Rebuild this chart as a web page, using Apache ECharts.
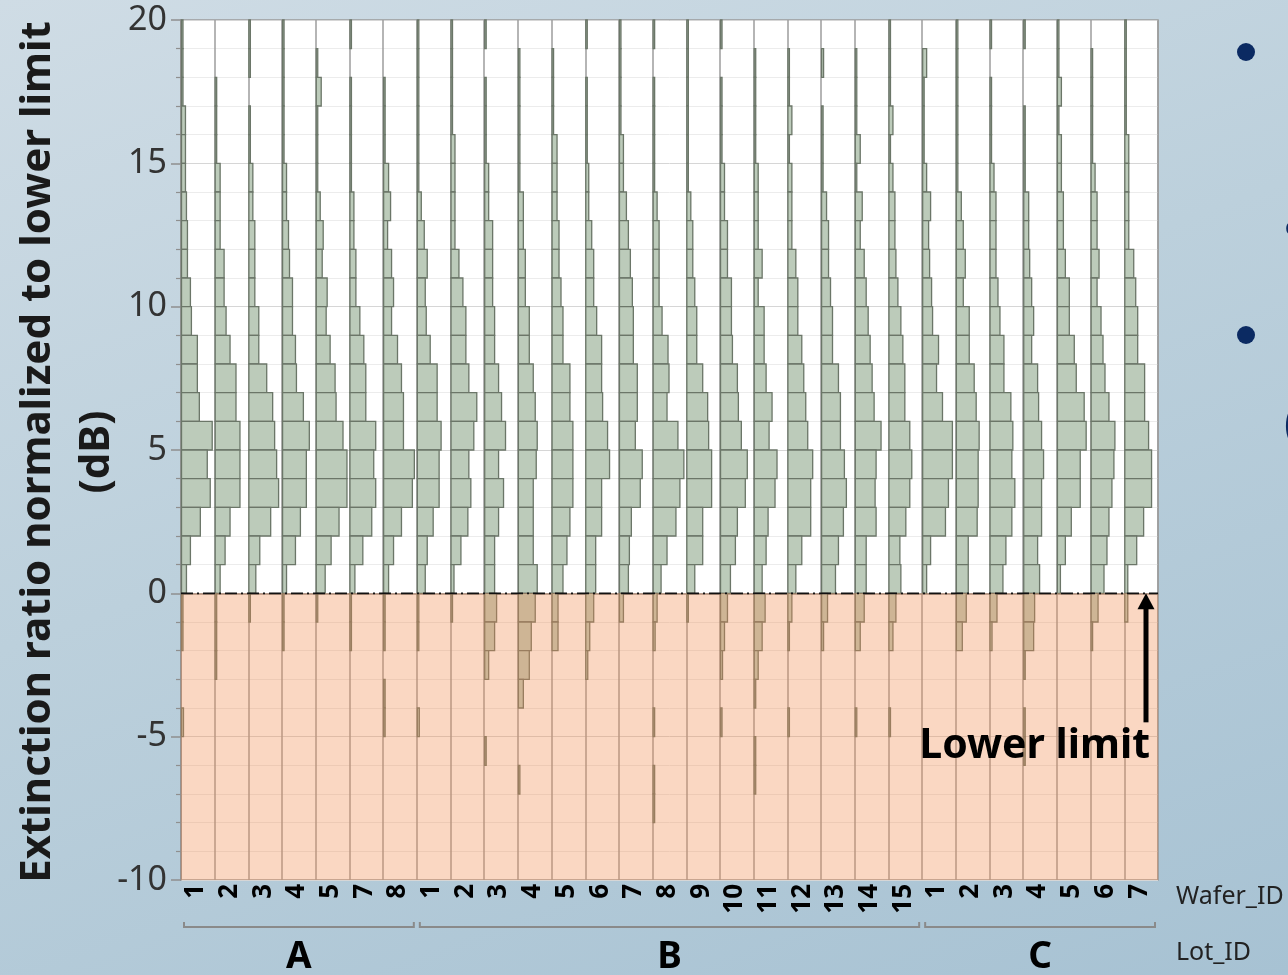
<!DOCTYPE html>
<html><head><meta charset="utf-8">
<script src="https://cdn.jsdelivr.net/npm/echarts@6/dist/echarts.min.js"></script>
<style>
html,body{margin:0;padding:0;width:1288px;height:975px;overflow:hidden;
background:linear-gradient(160deg,#cfdce5 0%,#bcd0dc 45%,#a7c2d3 100%);}
#c{width:1288px;height:975px;}
</style></head><body><div id="c"></div>
<script>
// ---------------- data ----------------
const lotIds = ['A', 'B', 'C'];
const lotA_wafers = ['1','2','3','4','5','7','8'];
const lotB_wafers = ['1','2','3','4','5','6','7','8','9','10','11','12','13','14','15'];
const lotC_wafers = ['1','2','3','4','5','6','7'];

// y axis (dB)
const Y_MIN = -10, Y_MAX = 20, Y_STEP = 5;
const LOWER_LIMIT = 0;
// histogram bins of 1 dB; each row lists bins from 19..20 dB down to -10..-9 dB
const BIN_TOP = 20, BIN_WIDTH = 1;
// relative count that fills the whole wafer column
const COL_FULL = 34;

const lotA_counts = [
  [1.5,1.5,1.5,4,4,4,5,6,6,9, 10,16,16,18,31,26,29,19,9,5, 1.5,1.5,0,0,2,0,0,0,0,0],
  [0,0,1.5,1.5,1.5,5,5,5,9,9, 11,15,21,21,25,25,25,15,10,5, 1.5,1.5,1.5,0,0,0,0,0,0,0],
  [1.5,1.5,0,1.5,1.5,4,4,6,6,6, 10,10,18,24,26,28,30,22,11,7, 1.5,0,0,0,0,0,0,0,0,0],
  [1.5,1.5,1.5,1.5,1.5,4,4,6,7,10, 10,13,14,21,27,24,24,18,13,4, 1.5,1.5,0,0,0,0,0,0,0,0],
  [0,1.5,5,1.5,1.5,1.5,4,7,6,11, 10,14,19,20,27,31,31,23,15,9, 1.5,0,0,0,0,0,0,0,0,0],
  [1.5,0,1.5,1.5,1.5,1.5,4,4,6,6, 10,14,16,16,26,24,26,22,13,5, 1.5,1.5,0,0,0,0,0,0,0,0],
  [0,0,1.5,1.5,1.5,5,7,4,8,10, 8,14,18,20,20,31,29,18,10,5, 1.5,1.5,0,1.5,1.5,0,0,0,0,0]
];
const lotB_counts = [
  [1.5,1.5,1.5,1.5,1.5,1.5,4,7,10,8, 9,13,20,20,24,22,22,16,10,8, 1.5,1.5,0,0,2,0,0,0,0,0],
  [1.5,1.5,1.5,1.5,4,4,4,4,8,12, 15,15,18,26,23,18,20,17,10,3, 1.5,0,0,0,0,0,0,0,0,0],
  [1.5,0,1.5,1.5,1.5,4,4,8,8,8, 10,10,14,17,21,14,19,14,10,10, 12,10,4,0,0,1.5,0,0,0,0],
  [0,1.5,1.5,1.5,1.5,1.5,5,5,7,7, 11,11,15,17,19,18,15,15,15,19, 17,13,11,5,0,0,1.5,0,0,0],
  [0,1.5,1.5,1.5,5,5,5,7,7,9, 11,11,18,18,21,21,21,18,15,11, 6,6,0,0,0,0,0,0,0,0],
  [1.5,0,1.5,1.5,1.5,3,3,6,8,8, 11,16,16,17,22,24,16,16,10,10, 8,4,2,0,0,0,0,0,0,0],
  [1.5,1.5,1.5,1.5,4,4,7,9,11,13, 14,14,18,18,16,23,21,12,10,9, 4,0,0,0,0,0,0,0,0,0],
  [1.5,0,1.5,1.5,1.5,1.5,4,6,6,6, 9,15,16,14,25,31,27,23,14,8, 4,2,0,0,1.5,0,1.5,1.5,0,0],
  [1.5,1.5,1.5,1.5,1.5,1.5,4,6,6,8, 10,10,16,21,22,25,25,16,16,8, 1.5,0,0,0,0,0,0,0,0,0],
  [1.5,0,1.5,1.5,1.5,4,4,7,7,11, 11,12,17,18,21,27,25,17,15,10, 7,4,2,0,1.5,0,0,0,0,0],
  [0,1.5,1.5,1.5,1.5,4,4,4,8,4, 10,10,12,18,15,23,21,14,12,8, 11,8,4,1.5,0,1.5,1.5,0,0,0],
  [0,1.5,1.5,4,1.5,4,4,4,8,10, 10,14,16,18,20,25,23,23,14,8, 4,1.5,0,0,1.5,0,0,0,0,0],
  [0,2,0,1.5,1.5,1.5,5,7,7,9, 11,11,17,19,19,23,25,22,17,14, 6,2,0,0,0,0,0,0,0,0],
  [0,1.5,1.5,1.5,5,1.5,7,5,9,11, 13,15,17,19,26,21,20,21,11,11, 9,5,0,0,1.5,0,0,0,0,0],
  [1.5,1.5,1.5,4,1.5,4,6,6,7,9, 12,14,16,16,21,23,21,17,11,12, 7,4,0,0,1.5,0,0,0,0,0]
];
const lotC_counts = [
  [0,4,1.5,1.5,1.5,4,8,6,7,9, 10,16,14,20,30,30,26,23,8,4, 0,0,0,0,0,0,0,0,0,0],
  [1.5,1.5,1.5,1.5,1.5,1.5,5,7,9,7, 13,13,18,20,23,22,22,21,12,12, 10,6,0,0,0,0,0,0,0,0],
  [1.5,0,1.5,1.5,1.5,4,6,6,6,8, 10,14,14,21,23,22,25,22,16,13, 7,2,0,0,0,0,0,0,0,0],
  [1.5,0,0,1.5,1.5,1.5,5,5,6,8, 10,8,14,15,18,20,18,18,14,16, 11,10,1.5,0,1.5,1.5,0,0,0,0],
  [1.5,1.5,4,1.5,4,4,6,6,8,12, 12,17,19,27,29,23,23,14,8,3, 0,0,0,0,0,0,0,0,0,0],
  [0,1.5,1.5,1.5,1.5,4,6,6,8,6, 10,12,14,18,24,23,21,18,16,13, 7,1.5,0,0,0,0,0,0,0,0],
  [1.5,1.5,1.5,1.5,4,4,4,4,9,11, 13,13,20,20,24,27,27,19,12,3, 3,0,0,0,0,0,0,0,0,0]
];

// ---------------- build ----------------
const lotWafers = [lotA_wafers, lotB_wafers, lotC_wafers];
const lotCounts = [lotA_counts, lotB_counts, lotC_counts];
const categories = [];
const waferLabel = [];
const lotRanges = [];
const barData = [];
const labelData = [];
lotWafers.forEach((ws, li) => {
  const start = categories.length;
  ws.forEach((w, wi) => {
    const col = categories.length;
    categories.push(lotIds[li] + '-' + w);
    waferLabel.push(w);
    labelData.push([col, Y_MIN]);
    lotCounts[li][wi].forEach((v, bi) => {
      if (v > 0) {
        const hi = BIN_TOP - bi * BIN_WIDTH;
        barData.push([col, hi - BIN_WIDTH, hi, v]);
      }
    });
  });
  lotRanges.push([start, categories.length - 1, Y_MIN]);
});

const FONT = '"Noto Sans", "DejaVu Sans", sans-serif';
const chart = echarts.init(document.getElementById('c'), null, {renderer: 'canvas'});

const option = {
  animation: false,
  grid: {left: 181, top: 20, width: 977, height: 860, show: true,
         backgroundColor: '#ffffff', borderColor: '#9a9a9a', borderWidth: 1.5},
  xAxis: {
    type: 'category', data: categories, boundaryGap: true,
    axisLine: {show: true, lineStyle: {color: '#8f8f8f', width: 1.5}},
    axisTick: {show: false},
    axisLabel: {show: false},
    splitLine: {show: true, interval: 0, lineStyle: {color: '#9c9c9c', width: 1.5}}
  },
  yAxis: {
    type: 'value', min: Y_MIN, max: Y_MAX, interval: Y_STEP,
    axisLine: {show: true, lineStyle: {color: '#8f8f8f', width: 1.5}},
    axisTick: {show: true, length: 10, lineStyle: {color: '#8f8f8f', width: 1.5}},
    minorTick: {show: true, splitNumber: 5, length: 5, lineStyle: {color: '#8f8f8f', width: 1.2}},
    axisLabel: {fontSize: 34, color: '#333', margin: 14, fontFamily: FONT},
    splitLine: {show: true, lineStyle: {color: '#d6d6d6', width: 1}},
    minorSplitLine: {show: true, lineStyle: {color: '#ececec', width: 1}}
  },
  series: [
    {
      type: 'custom', name: 'histogram', z: 2, silent: true,
      data: barData, encode: {x: 0, y: [1, 2]},
      renderItem: function (params, api) {
        const col = api.value(0), lo = api.value(1), hi = api.value(2), w = api.value(3);
        const band = api.size([1, 0])[0];
        const pTop = api.coord([col, hi]);
        const pBot = api.coord([col, lo]);
        return {
          type: 'rect',
          shape: {x: pTop[0] - band / 2 + 0.5, y: pTop[1], width: w / COL_FULL * band, height: pBot[1] - pTop[1]},
          style: {fill: '#bccbba', stroke: '#6b7668', lineWidth: 1.3}
        };
      }
    },
    {
      type: 'custom', name: 'below limit', z: 5, silent: true, clip: false,
      data: [[0, Y_MIN, LOWER_LIMIT]], encode: {x: 0, y: [1, 2]},
      renderItem: function (params, api) {
        const band = api.size([1, 0])[0];
        const left = api.coord([0, LOWER_LIMIT])[0] - band / 2;
        const right = api.coord([categories.length - 1, LOWER_LIMIT])[0] + band / 2;
        const yLim = api.coord([0, api.value(2)])[1];
        const yMin = api.coord([0, api.value(1)])[1];
        const ax = right - 12;
        const tail = api.coord([0, LOWER_LIMIT - 4.5])[1];
        const textY = api.coord([0, LOWER_LIMIT - 5.35])[1];
        return {type: 'group', children: [
          {type: 'rect', shape: {x: left, y: yLim, width: right - left, height: yMin - yLim},
           style: {fill: 'rgba(240,140,80,0.35)'}},
          {type: 'line', shape: {x1: left, y1: yLim, x2: right, y2: yLim},
           style: {stroke: '#111', lineWidth: 1.6, lineDash: [12, 4, 2, 4]}},
          {type: 'line', shape: {x1: ax, y1: yLim + 12, x2: ax, y2: tail},
           style: {stroke: '#000', lineWidth: 5}},
          {type: 'polygon', shape: {points: [[ax, yLim], [ax - 8.5, yLim + 16], [ax + 8.5, yLim + 16]]},
           style: {fill: '#000'}},
          {type: 'text', x: right - 8, y: textY,
           style: {text: 'Lower limit', fill: '#000', font: 'bold 41px ' + FONT,
                   textAlign: 'right', textVerticalAlign: 'middle'}}
        ]};
      }
    },
    {
      type: 'custom', name: 'wafer labels', z: 5, silent: true, clip: false,
      data: labelData, encode: {x: 0, y: 1},
      renderItem: function (params, api) {
        const p = api.coord([api.value(0), api.value(1)]);
        return {
          type: 'text', x: p[0] - 2, y: p[1] + 4, rotation: Math.PI / 2,
          style: {text: waferLabel[params.dataIndex], fill: '#000', font: 'bold 26px ' + FONT,
                  textAlign: 'right', textVerticalAlign: 'middle'}
        };
      }
    },
    {
      type: 'custom', name: 'lots', z: 5, silent: true, clip: false,
      data: lotRanges, encode: {x: [0, 1], y: 2},
      renderItem: function (params, api) {
        const band = api.size([1, 0])[0];
        const a = api.coord([api.value(0), api.value(2)]);
        const b = api.coord([api.value(1), api.value(2)]);
        const x0 = a[0] - band / 2 + 3, x1 = b[0] + band / 2 - 3;
        const yb = a[1] + 47;
        return {type: 'group', children: [
          {type: 'polyline', shape: {points: [[x0, yb - 5], [x0, yb], [x1, yb], [x1, yb - 5]]},
           style: {stroke: '#8a8a8a', lineWidth: 2, fill: null}},
          {type: 'text', x: (x0 + x1) / 2, y: a[1] + 77,
           style: {text: lotIds[params.dataIndex], fill: '#000', font: 'bold 37px ' + FONT,
                   textAlign: 'center', textVerticalAlign: 'middle'}}
        ]};
      }
    }
  ],
  graphic: [
    {type: 'text', x: 38, y: 452, rotation: Math.PI / 2,
     style: {text: 'Extinction ratio normalized to lower limit', fill: '#1a1a1a',
             font: 'bold 42px ' + FONT, textAlign: 'center', textVerticalAlign: 'middle'}},
    {type: 'text', x: 97, y: 452, rotation: Math.PI / 2,
     style: {text: '(dB)', fill: '#1a1a1a', font: 'bold 42px ' + FONT,
             textAlign: 'center', textVerticalAlign: 'middle'}},
    {type: 'text', x: 1176, y: 897,
     style: {text: 'Wafer_ID', fill: '#222', font: '25px ' + FONT, textVerticalAlign: 'middle'}},
    {type: 'text', x: 1176, y: 953,
     style: {text: 'Lot_ID', fill: '#222', font: '25px ' + FONT, textVerticalAlign: 'middle'}},
    {type: 'circle', shape: {cx: 1246, cy: 52, r: 9}, style: {fill: '#0b2a62'}},
    {type: 'circle', shape: {cx: 1246, cy: 335, r: 9}, style: {fill: '#0b2a62'}},
    {type: 'text', x: 1284, y: 54, style: {text: 'High yield', fill: '#0b2a62', font: '48px ' + FONT, textVerticalAlign: 'middle'}},
    {type: 'text', x: 1284, y: 140, style: {text: 'Main peak', fill: '#0b2a62', font: '48px ' + FONT, textVerticalAlign: 'middle'}},
    {type: 'text', x: 1284, y: 222, style: {text: 'at ~5 dB', fill: '#0b2a62', font: '48px ' + FONT, textVerticalAlign: 'middle'}},
    {type: 'text', x: 1284, y: 335, style: {text: 'Few fails', fill: '#0b2a62', font: '48px ' + FONT, textVerticalAlign: 'middle'}},
    {type: 'text', x: 1284, y: 425, style: {text: '(tails)', fill: '#0b2a62', font: '48px ' + FONT, textVerticalAlign: 'middle'}}
  ]
};
chart.setOption(option);
</script>
</body></html>
